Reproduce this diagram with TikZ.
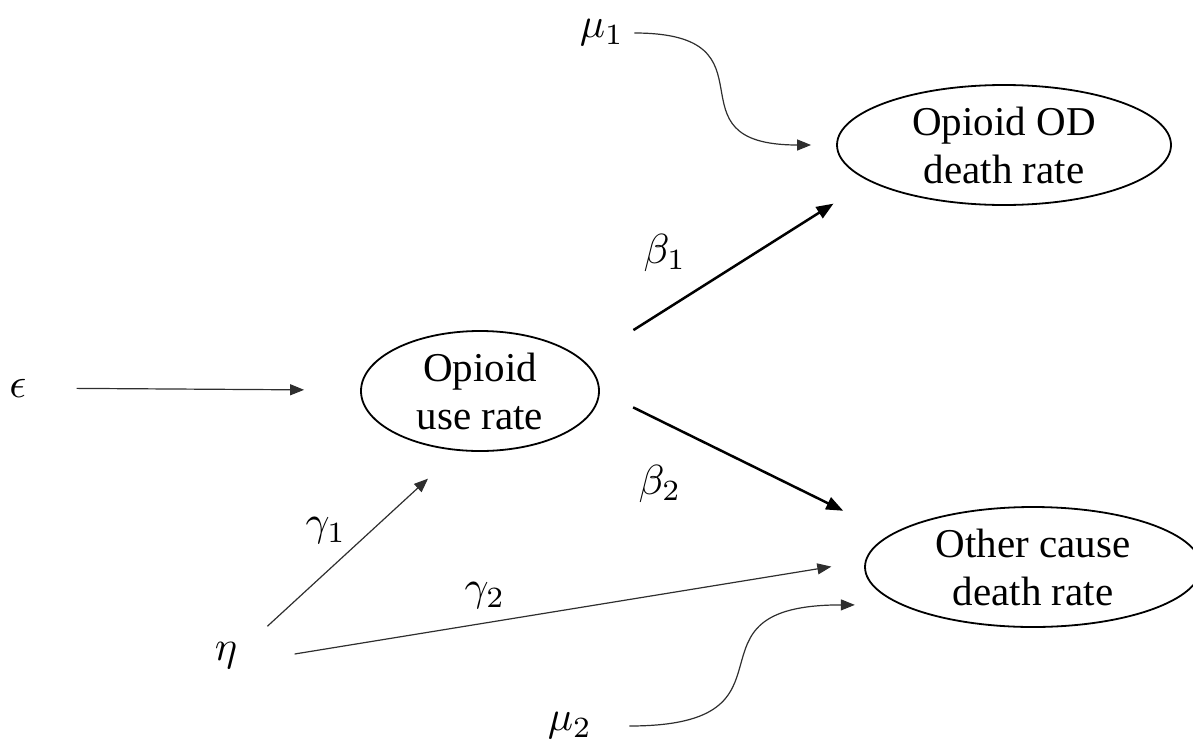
\documentclass[tikz,border=0pt]{standalone}
\usepackage{graphicx}
\usepackage{fontspec}
\setmainfont{Liberation Serif}
\usetikzlibrary{arrows.meta,positioning,shapes.geometric}
\definecolor{ink}{HTML}{000000}
\definecolor{softink}{HTML}{2E2E2E}
\newcommand{\gk}[1]{\scalebox{4.2}{$#1$}}
\tikzset{
  rate/.style={ellipse, draw=ink, line width=1.8pt, inner sep=0pt, align=center,
               minimum height=120pt, font=\fontsize{41}{48}\selectfont},
  sym/.style={inner sep=2pt},
  flow/.style={-{Triangle[length=14pt,width=11pt]}, draw=softink, line width=1.2pt},
  mainflow/.style={-{Triangle[length=17pt,width=13pt]}, draw=ink, line width=2.5pt},
}

\begin{document}
\begin{tikzpicture}[x=1pt,y=-1pt]
\useasboundingbox (0,0) rectangle (1193,747);
\node[rate, minimum width=238pt] (use) at (480,391) {Opioid\\use rate};
\node[rate, minimum width=334pt] (od) at (1004,145) {Opioid OD\\death rate};
\node[rate, minimum width=336pt] (other) at (1033,567) {Other cause\\death rate};
\node[sym] (eps) at (18,388) {\gk{\epsilon}};
\node[sym] (eta) at (226,656) {\gk{\eta}};
\node[sym] (mu1) at (602,33) {\gk{\mu_1}};
\node[sym] (mu2) at (570,726) {\gk{\mu_2}};
\node[sym] (b1) at (665,253) {\gk{\beta_1}};
\node[sym] (b2) at (660,484) {\gk{\beta_2}};
\node[sym] (g1) at (326,531) {\gk{\gamma_1}};
\node[sym] (g2) at (485,596) {\gk{\gamma_2}};
\coordinate (mu1tip) at ([xshift=-25pt]od.west);
\coordinate (mu2tip) at ([xshift=-46pt]other.196);
\draw[flow, shorten <=48pt, shorten >=56pt] (eps) -- (use);
\draw[mainflow, shorten <=58pt, shorten >=42pt] (use.16) -- (od.195);
\draw[mainflow, shorten <=37pt, shorten >=53pt] (use.east) -- (other.167);
\draw[flow, shorten <=38pt, shorten >=41pt] ([yshift=4pt]eta.east) -- (use.250);
\draw[flow, shorten <=56pt, shorten >=34pt] ([yshift=-7pt]eta.east) -- (other.178);
\draw[flow] ([xshift=8pt]mu1.east) to[out=0, in=180, distance=150pt] (mu1tip);
\draw[flow] ([xshift=35pt]mu2.east) to[out=0, in=180, distance=185pt] (mu2tip);
\end{tikzpicture}
\end{document}
